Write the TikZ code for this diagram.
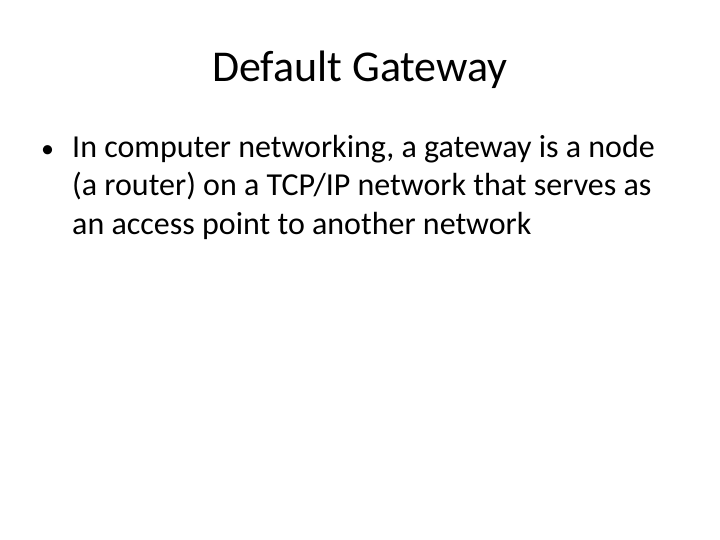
\documentclass[tikz,border=0pt]{standalone}
\usepackage{fontspec}
\setmainfont{Carlito}
\begin{document}
\begin{tikzpicture}[x=1pt,y=1pt,
  body/.style={anchor=base west,inner sep=0,font=\fontsize{32}{38}\selectfont}]
\useasboundingbox (0,0) rectangle (720,-540);
\node[anchor=base,inner sep=0,font=\fontsize{44}{52}\selectfont] (title) at (360,-82) {Default Gateway};
\node[anchor=base west,inner sep=0,font=\fontsize{26}{30}\selectfont] (bul) at (41,-158) {•};
\node[body] (l1) at (72,-158) {In computer networking, a gateway is a node};
\node[body] (l2) at (72,-196) {(a router) on a TCP/IP network that serves as};
\node[body] (l3) at (72,-234) {an access point to another network};
\end{tikzpicture}
\end{document}
